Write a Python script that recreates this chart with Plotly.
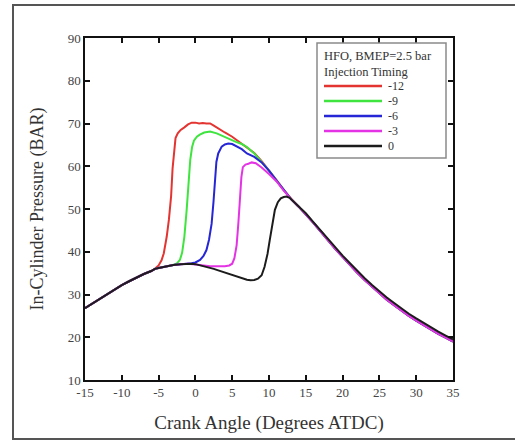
import plotly.graph_objects as go

# Shared compression stroke (before any injection effect)
angle_comp = [-15, -14, -13, -12, -11, -10, -9, -8, -7, -6]
p_comp = [26.8, 27.9, 29.0, 30.1, 31.2, 32.2, 33.1, 34.0, 34.8, 35.5]

# Shared expansion stroke (after all curves merge)
angle_exp = [14, 15, 16, 17, 18, 19, 20, 21, 22, 23, 24, 25, 26, 27, 28, 29, 30, 31, 32, 33, 34, 35]
p_exp = [50.6, 48.8, 46.8, 44.8, 42.7, 40.7, 38.8, 36.9, 35.1, 33.4, 31.8, 30.2,
         28.8, 27.5, 26.2, 25.0, 23.9, 22.8, 21.8, 20.8, 19.9, 19.0]
p_exp_0 = [50.8, 49.0, 47.0, 45.0, 43.0, 41.0, 39.1, 37.3, 35.5, 33.8, 32.2, 30.7,
           29.3, 28.0, 26.7, 25.5, 24.4, 23.3, 22.3, 21.3, 20.4, 19.5]

# Injection timing -12
angle_m12 = [-5.5, -5.0, -4.6, -4.3, -3.9, -3.6, -3.3, -3.1, -2.9, -2.7, -2.4, -2.0, -1.5, -1.0,
             -0.5, 0, 0.5, 1, 1.5, 2, 2.5, 3, 4, 5, 6, 7, 8, 9, 10, 11, 12, 13]
p_m12 = [36.0, 36.8, 38.0, 39.6, 43.5, 47.5, 53.0, 59.5, 64.0, 66.6, 67.7, 68.5, 69.1, 69.8,
         70.2, 70.2, 70.0, 70.1, 70.0, 70.0, 69.5, 68.9, 67.9, 66.9, 65.7, 64.5, 63.1, 61.2,
         59.1, 56.8, 54.5, 52.4]

# Injection timing -9
angle_m9 = [-5.5, -5, -4, -3, -2.5, -2.1, -1.8, -1.5, -1.2, -0.95, -0.7, -0.45, -0.2, 0.2, 0.6,
            1.2, 2.0, 2.9, 3.5, 4.0, 4.7, 5.5, 6.3, 7, 8, 9, 10, 11, 12, 13]
p_m9 = [36.0, 36.2, 36.6, 36.9, 37.3, 38.1, 39.8, 43.5, 49.5, 56.5, 61.5, 64.5, 66.0, 66.9, 67.4,
        67.9, 68.1, 67.7, 67.2, 66.9, 66.3, 65.7, 65.2, 64.5, 63.0, 61.1, 59.0, 56.7, 54.4, 52.3]

# Injection timing -6
angle_m6 = [-5.5, -5, -4, -3, -2, -1, -0.5, 0, 0.63, 1.1, 1.5, 1.85, 2.2, 2.45, 2.66, 2.85, 3.1,
            3.57, 4.0, 4.47, 5.0, 5.6, 6.3, 7.0, 8, 9, 10, 11, 12, 13]
p_m6 = [36.0, 36.2, 36.6, 36.9, 37.1, 37.2, 37.3, 37.5, 38.1, 39.0, 40.4, 42.8, 46.5, 51.5, 57.0,
        61.0, 63.0, 64.6, 65.1, 65.3, 65.2, 64.7, 64.0, 63.0, 62.2, 60.9, 59.0, 56.7, 54.4, 52.3]

# Injection timing -3
angle_m3 = [-5.5, -5, -4, -3, -2, -1, 0, 0.5, 1, 2, 3, 4, 4.6, 5.0, 5.3, 5.6, 5.85, 6.05, 6.25,
            6.45, 6.8, 7.2, 7.65, 8.2, 9, 10, 11, 12, 13]
p_m3 = [36.0, 36.2, 36.6, 36.9, 37.1, 37.2, 37.0, 36.9, 36.7, 36.6, 36.6, 36.6, 36.8, 37.2, 38.5,
        41.5, 47.0, 53.0, 57.5, 59.8, 60.4, 60.6, 60.9, 60.7, 59.7, 58.2, 56.5, 54.3, 52.3]

# Injection timing 0
angle_0 = [-5.5, -5, -4, -3, -2, -1, -0.5, 0, 0.5, 1, 1.5, 2, 2.5, 3, 3.5, 4, 4.5, 5, 5.5, 6, 6.5,
           7, 7.5, 8, 8.5, 9, 9.4, 9.8, 10.1, 10.5, 10.8, 11.2, 11.6, 12.0, 12.4, 12.8, 13.1, 13.5]
p_0 = [36.0, 36.2, 36.6, 36.9, 37.1, 37.2, 37.2, 37.1, 36.9, 36.7, 36.5, 36.3, 36.0, 35.7, 35.4,
       35.1, 34.8, 34.5, 34.2, 33.9, 33.65, 33.45, 33.35, 33.4, 33.7, 34.5, 36.5, 39.5, 42.7,
       47.0, 49.8, 51.6, 52.5, 52.8, 52.9, 52.6, 52.1, 51.6]

series_names = ["-12", "-9", "-6", "-3", "0"]
series_colors = ["#e33431", "#3fe43f", "#2626d6", "#e433e4", "#1c1c1c"]

legend_title = "HFO, BMEP=2.5 bar<br>Injection Timing"

x_ticks = [-15, -10, -5, 0, 5, 10, 15, 20, 25, 30, 35]
y_ticks = [10, 20, 30, 40, 50, 60, 70, 80, 90]

series_x = [angle_comp + angle_m12 + angle_exp,
            angle_comp + angle_m9 + angle_exp,
            angle_comp + angle_m6 + angle_exp,
            angle_comp + angle_m3 + angle_exp,
            angle_comp + angle_0 + angle_exp]
series_y = [p_comp + p_m12 + p_exp,
            p_comp + p_m9 + p_exp,
            p_comp + p_m6 + p_exp,
            p_comp + p_m3 + p_exp,
            p_comp + p_0 + p_exp_0]

SERIF = "Liberation Serif, Times New Roman, serif"

# plot-area geometry (pixels) used to place the framed legend in paper coords
L, R, T, B = 85, 453, 38, 380
W, H = R - L, B - T


def px(xp):
    return (xp - L) / W


def py(yp):
    return (B - yp) / H


fig = go.Figure()
for name, color, xs, ys in zip(series_names, series_colors, series_x, series_y):
    fig.add_trace(go.Scatter(x=xs, y=ys, mode="lines", name=name,
                             line=dict(color=color, width=2), showlegend=False))

axis_common = dict(showline=True, linecolor="#111", linewidth=1.5, mirror="ticks",
                   ticks="inside", ticklen=5, tickwidth=1.5, tickcolor="#111",
                   showgrid=False, zeroline=False,
                   tickfont=dict(family=SERIF, size=13, color="#444"))

shapes = [
    # outer picture frame
    dict(type="rect", xref="paper", yref="paper",
         x0=px(13), x1=px(530), y0=py(439), y1=py(5),
         line=dict(color="#555", width=2), fillcolor="rgba(0,0,0,0)", layer="below"),
    # legend box
    dict(type="rect", xref="paper", yref="paper",
         x0=px(317), x1=px(446), y0=py(158), y1=py(43),
         line=dict(color="#8a8a8a", width=1.5), fillcolor="white", layer="above"),
]
annotations = [dict(xref="paper", yref="paper", x=px(322), y=py(63.5),
                    xanchor="left", yanchor="middle", align="left", showarrow=False,
                    text=legend_title, font=dict(family=SERIF, size=12.5, color="#333"))]
for i, (name, color) in enumerate(zip(series_names, series_colors)):
    yy = py(86 + 15 * i)
    shapes.append(dict(type="line", xref="paper", yref="paper",
                       x0=px(324), x1=px(382), y0=yy, y1=yy,
                       line=dict(color=color, width=2.5), layer="above"))
    annotations.append(dict(xref="paper", yref="paper", x=px(386), y=yy,
                            xanchor="left", yanchor="middle", showarrow=False, text=name,
                            font=dict(family=SERIF, size=12, color="#333")))

fig.update_layout(
    width=515, height=440,
    margin=dict(l=L, r=515 - R, t=T, b=440 - B, autoexpand=False),
    paper_bgcolor="white", plot_bgcolor="white",
    font=dict(family=SERIF, color="#333"),
    xaxis=dict(range=[-15, 35], tickvals=x_ticks, ticktext=[str(v) for v in x_ticks],
               title=dict(text="Crank Angle (Degrees ATDC)",
                          font=dict(family=SERIF, size=19, color="#333"), standoff=16),
               **axis_common),
    yaxis=dict(range=[10, 90], tickvals=y_ticks, ticktext=[str(v) for v in y_ticks],
               title=dict(text="In-Cylinder Pressure (BAR)",
                          font=dict(family=SERIF, size=18, color="#333"), standoff=19),
               **axis_common),
    showlegend=False,
    shapes=shapes,
    annotations=annotations,
)

fig.write_html("out.html", config={"displayModeBar": False},
               post_script="document.body.style.margin='0px';")
